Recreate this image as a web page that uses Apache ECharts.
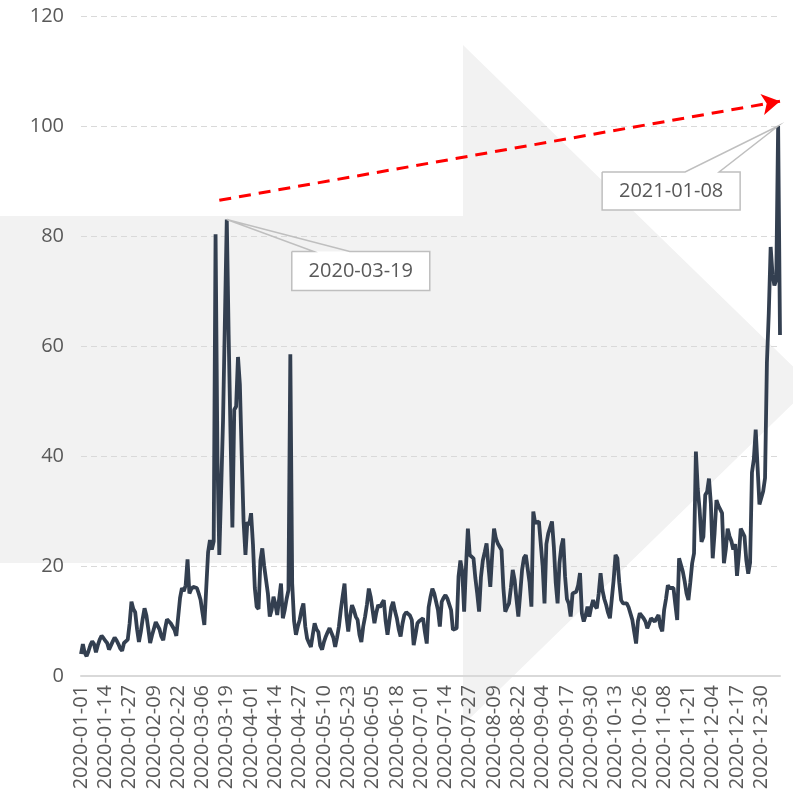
<!DOCTYPE html>
<html>
<head>
<meta charset="utf-8">
<script src="https://cdn.jsdelivr.net/npm/echarts@6/dist/echarts.min.js"></script>
<style>
  html, body { margin: 0; padding: 0; background: #fff; }
  #main { width: 793px; height: 808px; }
</style>
</head>
<body>
<div id="main"></div>
<script>
// 일별 값 (2020-01-01 부터)
var startDate = "2020-01-01";
var values = [
  4, 5.8, 4.2, 3.6, 4.5, 5.6, 6.3, 5.8, 4.3, 5.6,
  6.6, 7.3, 6.9, 6.4, 6.0, 4.8, 4.9, 6.3, 7.0, 6.5,
  5.8, 5.0, 4.6, 6.0, 6.3, 6.6, 9.5, 13.5, 12.2, 11.6,
  8.5, 6.2, 8.0, 10.4, 12.3, 11.0, 8.6, 6.0, 7.4, 8.6,
  9.8, 10.0, 8.5, 7.2, 6.5, 8.6, 10.3, 10.2, 9.6, 9.8,
  8.4, 7.3, 7.5, 14.2, 16.0, 15.4, 16.5, 21.2, 15.0, 15.8,
  16.2, 16.4, 16.0, 15.0, 13.8, 11.5, 9.3, 9.6, 22.5, 24.7,
  23.0, 24.5, 80.3, 40, 22, 34, 46.5, 46.8, 83, 62,
  44, 27, 48.4, 49, 58, 53, 40, 28, 22, 28,
  27.5, 29.6, 24, 16, 12.6, 12.2, 21, 23.2, 20, 17.5,
  15, 10.8, 12, 14.4, 13, 11.1, 14, 16.8, 10.5, 12,
  14, 15.6, 58.5, 16.8, 10, 7.5, 9, 10.2, 12, 13.2,
  9, 6.8, 6, 5.3, 7.5, 9.6, 8.5, 8, 5.5, 4.8,
  6.2, 7.2, 8, 8.7, 9, 7, 5.3, 7, 9, 12,
  14.5, 16.8, 11, 8.1, 11, 12.9, 12, 10.8, 10.2, 7.5,
  6.2, 9, 10.8, 13, 15.9, 14.4, 12, 9.6, 11.5, 12.9,
  12.5, 13.2, 13.8, 10, 7.5, 10, 12.5, 13.5, 11.8, 10.5,
  8.5, 7.2, 9.5, 11.1, 11.6, 11.4, 11, 10.2, 5.6, 7.5,
  9.6, 10, 10.2, 10.5, 8, 5.9, 12.5, 14.4, 15.9, 15,
  15.3, 12, 9, 13.5, 14.2, 14.7, 14.1, 14.4, 12, 8.4,
  8.5, 8.7, 18.1, 21, 19, 11.7, 20, 26.8, 22, 21.8,
  21.4, 17.8, 15, 11.7, 18, 21, 22.5, 24.1, 20, 16.2,
  22, 26.8, 25, 24.1, 23.5, 22.9, 16, 11.7, 12.5, 13.2,
  16, 19.3, 17.5, 14, 10.8, 15, 19.3, 21.5, 22, 22,
  17, 12.6, 29.9, 27.8, 28, 28.1, 27.8, 20, 13.2, 24,
  25.9, 25.6, 28.1, 23.5, 17, 13.2, 20.5, 23.5, 25, 18.1,
  14, 13.2, 10.8, 15, 15.2, 15.3, 16.5, 18.7, 11.4, 9.9,
  11, 12.6, 10.8, 12.5, 13.8, 12.8, 12.3, 15, 18.7, 15.6,
  14, 12.9, 11.5, 10.5, 14, 17.5, 22, 21.4, 17, 13.8,
  13.2, 12.9, 13.2, 12.5, 12.3, 10.2, 8, 5.9, 10, 11.4,
  11.1, 10.5, 9.9, 8.7, 9.5, 10.5, 10.2, 9.9, 10.5, 11.1,
  9, 8.1, 12, 14, 16.5, 16, 15.9, 16, 13, 10.2,
  21.4, 21.1, 19, 17.2, 15, 13.8, 17, 20.5, 22.3, 40.8,
  34, 30.2, 24.4, 25.3, 32.9, 33.5, 35.9, 31.4, 21.4, 26,
  32, 31, 30.8, 29.6, 20.5, 23, 26.8, 25.4, 24.5, 23,
  24, 18.2, 22, 26.8, 26.5, 25.4, 21, 18.6, 20.6, 37,
  39.4, 44.8, 38, 31.2, 31.5, 33.6, 36, 57, 66, 78,
  73, 71, 72, 100, 62
];

// 주석 날짜
var notes = ["2020-03-19", "2021-01-08"];
// 추세 화살표 (시작, 끝)
var trendStart = ["2020-03-15", 86.5];
var trendEnd = ["2021-01-09", 104.5];

var yTicks = [0, 20, 40, 60, 80, 100, 120];

// 날짜 목록 만들기
var dates = [];
(function () {
  var d = new Date(startDate + "T00:00:00Z");
  for (var i = 0; i < values.length; i++) {
    var m = String(d.getUTCMonth() + 1).padStart(2, "0");
    var day = String(d.getUTCDate()).padStart(2, "0");
    dates.push(d.getUTCFullYear() + "-" + m + "-" + day);
    d.setUTCDate(d.getUTCDate() + 1);
  }
})();

var font = "'Open Sans', 'Noto Sans', sans-serif";
var textColor = "#595959";

var chartDom = document.getElementById("main");
var myChart = echarts.init(chartDom);
var option;

option = {
  animation: false,
  backgroundColor: "#fff",
  grid: { left: 81, right: 13, top: 16, bottom: 132 },
  xAxis: {
    type: "category",
    data: dates,
    boundaryGap: false,
    axisLine: { lineStyle: { color: "#d9d9d9", width: 2 } },
    axisTick: { show: false },
    axisLabel: {
      interval: 12,
      rotate: 90,
      margin: 9,
      color: textColor,
      fontSize: 20,
      fontFamily: font
    }
  },
  yAxis: {
    type: "value",
    min: yTicks[0],
    max: yTicks[yTicks.length - 1],
    interval: 20,
    axisLine: { show: false },
    axisTick: { show: false },
    axisLabel: { color: textColor, fontSize: 20, margin: 17, fontFamily: font },
    splitLine: { lineStyle: { color: "#d9d9d9", type: [6, 4], width: 1 } }
  },
  series: [
    {
      type: "line",
      data: values,
      showSymbol: false,
      clip: false,
      lineStyle: { color: "#333f50", width: 3.8 },
      itemStyle: { color: "#333f50" },
      z: 5,
      markLine: {
        silent: true,
        symbol: ["none", "arrow"],
        symbolSize: [16, 18],
        label: { show: false },
        lineStyle: { color: "#ff0000", width: 3, type: [12, 8] },
        data: [[{ coord: trendStart }, { coord: trendEnd }]]
      }
    }
  ]
};

option && myChart.setOption(option);

// 배경 화살표 + 주석 말풍선
function buildGraphics() {
  var els = [
    {
      type: "polygon",
      z: -10,
      silent: true,
      shape: {
        points: [[0, 216], [463, 216], [463, 45], [812, 385], [463, 725], [463, 563], [0, 563]]
      },
      style: { fill: "#f2f2f2" }
    }
  ];
  var offsets = [
    { dx: 65, dy: 32, w: 138, h: 39, t1: 22, t2: 58 },
    { dx: -176, dy: 46, w: 138, h: 38, t1: 83, t2: 117 }
  ];
  notes.forEach(function (day, k) {
    var idx = dates.indexOf(day);
    var p = myChart.convertToPixel({ seriesIndex: 0 }, [idx, values[idx]]);
    var o = offsets[k];
    var L = p[0] + o.dx, T = p[1] + o.dy, R = L + o.w, B = T + o.h;
    els.push({
      type: "rect",
      z: 50,
      shape: { x: L, y: T, width: o.w, height: o.h },
      style: { fill: "#fff" }
    });
    els.push({
      type: "polyline",
      z: 51,
      shape: {
        points: [[L, T], [L + o.t1, T], p, [L + o.t2, T], [R, T], [R, B], [L, B], [L, T]]
      },
      style: { stroke: "#bfbfbf", lineWidth: 1.5, fill: null }
    });
    els.push({
      type: "text",
      z: 52,
      style: {
        text: day,
        x: (L + R) / 2,
        y: (T + B) / 2,
        align: "center",
        verticalAlign: "middle",
        fill: textColor,
        fontSize: 20,
        fontFamily: font
      }
    });
  });
  return els;
}

myChart.setOption({ graphic: buildGraphics() });
</script>
</body>
</html>
